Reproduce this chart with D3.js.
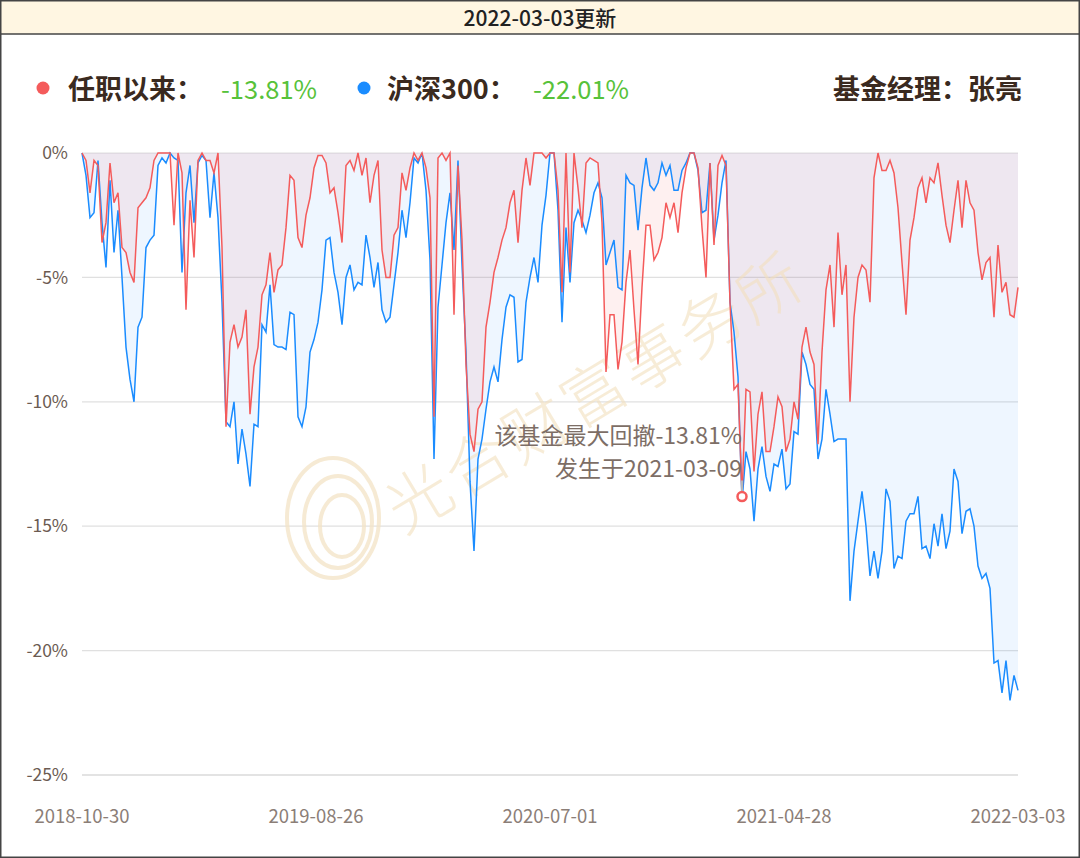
<!DOCTYPE html>
<meta charset="utf-8">
<style>
  body { margin: 0; background: #fff; }
  svg { display: block; font-family: "Noto Sans CJK SC", "Noto Sans", sans-serif; }
</style>
<script src="https://d3js.org/d3.v7.min.js"></script>
<body>
<script>

// drawdown series, percent, sampled evenly from 2018-10-30 to 2022-03-03
var fundDD = [
  0,-0.3,-1.6,-0.3,-0.5,-3.6,-2.8,-0.4,-2.0,-1.6,-3.8,-4.0,-4.8,-5.2,-2.2,-2.0,-1.8,-1.4,-0.3,0,
  0,0,0,-2.9,0,-0.8,-6.3,-1.9,-4.2,-0.3,0,-0.3,-0.3,-0.8,0,-3.8,-11.0,-7.6,-6.9,-7.8,
  -7.4,-6.3,-10.5,-8.6,-7.8,-5.7,-5.3,-4.0,-5.6,-4.7,-4.5,-3.0,-0.9,-1.1,-3.4,-3.8,-2.5,-1.8,-0.6,-0.1,
  -0.1,-0.4,-1.6,-1.4,-2.4,-3.6,-0.5,-0.3,-0.7,0,-0.9,-0.2,-2.0,-0.9,-0.3,-3.9,-5.0,-5.0,-3.3,
  -3.0,-0.8,-1.5,-0.6,0,-0.3,0,-0.6,-1.8,-10.6,-0.2,0,-0.3,0,-6.5,-0.5,-3.5,-8.5,-11.3,-12.0,
  -10.3,-10.0,-7.0,-6.0,-4.8,-4.2,-3.5,-3.0,-2.0,-1.5,-3.6,-1.5,-0.2,-1.3,0,0,0,-0.2,0,
  0,-1.5,-5.6,0,-4.8,0,-1.4,-3.0,-0.4,-0.2,-0.3,-0.4,-2.8,-8.8,-6.5,-6.5,-8.7,-7.6,-5.2,-3.9,
  -6.3,-8.5,-5.4,-2.9,-2.9,-4.3,-4.0,-3.4,-2.0,-2.6,-2.0,-3.2,-1.6,-0.6,0,0,-0.6,-3.0,-5.0,
  -0.4,-3.7,-0.5,-0.1,-0.5,-6.0,-9.5,-9.3,-13.81,-9.5,-9.6,-12.8,-10.5,-9.6,-12.0,-12.0,-11.0,-9.8,-10.2,-12.0,
  -11.5,-10.0,-10.7,-7.8,-7.0,-8.0,-8.5,-11.7,-8.0,-5.5,-4.5,-7.0,-3.2,-5.7,-4.5,-10.0,-6.6,-5.0,-4.5,
  -4.7,-6.0,-1.0,0,-0.7,-0.7,-0.3,-0.8,-2.2,-4.4,-6.5,-3.5,-2.6,-1.4,-1.0,-2.0,-1.0,-1.2,-0.4,-1.7,
  -2.9,-3.6,-2.3,-1.1,-3.0,-1.1,-2.0,-2.3,-4.0,-5.1,-4.4,-4.2,-6.6,-3.7,-5.6,-5.2,-6.5,-6.6,-5.4
];

var hs300DD = [
  0,-0.9,-2.6,-2.4,-0.3,-2.8,-4.6,-1.1,-4.0,-2.3,-5.0,-7.8,-9.1,-10.0,-7.0,-6.6,-3.8,-3.5,-3.3,-0.5,
  -0.2,-0.4,0,-0.2,-0.3,-4.8,-1.6,-0.5,-2.8,-0.4,-0.1,-0.3,-2.6,-0.8,-2.6,-6.0,-10.8,-11.0,-10.0,-12.5,
  -11.1,-12.1,-13.4,-10.9,-11.0,-6.9,-7.2,-5.3,-7.7,-7.8,-7.8,-7.9,-6.4,-6.5,-10.6,-11.0,-10.2,-8.0,-7.5,-6.8,
  -5.5,-3.5,-3.4,-4.8,-5.6,-6.9,-5.0,-4.5,-5.5,-5.2,-5.3,-3.3,-4.2,-5.4,-4.4,-6.3,-6.8,-6.6,-5.3,
  -4.0,-2.3,-3.4,-2.0,-0.2,-0.4,0,-1.5,-4.3,-12.3,-6.2,-4.5,-2.8,-1.6,-3.9,-0.3,-4.5,-8.0,-13.2,-16.0,
  -12.3,-11.5,-10.3,-9.2,-8.6,-9.2,-7.5,-6.2,-5.7,-5.8,-8.4,-8.3,-6.0,-5.0,-4.2,-5.2,-2.9,-1.7,0,
  0,-2.3,-6.8,-3.0,-5.2,-2.8,-2.3,-2.7,-3.2,-2.5,-1.6,-1.2,-1.8,-4.5,-4.0,-3.5,-5.4,-5.5,-0.9,-1.2,
  -1.3,-3.1,-1.4,-0.2,-1.3,-1.5,-1.2,-0.4,-0.9,-0.5,-1.5,-1.5,-0.7,-0.4,0,0,-0.7,-2.4,-2.3,
  -0.4,-3.5,-2.5,-1.2,-0.3,-6.0,-7.2,-9.0,-14.0,-12.0,-12.7,-14.8,-12.7,-11.8,-13.0,-13.6,-12.5,-12.6,-11.9,-13.5,
  -13.3,-11.2,-11.3,-8.0,-8.5,-9.3,-9.5,-12.3,-11.5,-9.5,-10.5,-11.6,-11.5,-11.5,-11.5,-18.0,-16.0,-14.8,-13.6,
  -15.0,-17.0,-16.0,-17.1,-16.0,-13.5,-14.0,-16.7,-16.2,-16.3,-14.8,-14.5,-14.5,-13.8,-15.9,-15.8,-16.3,-14.9,-15.8,-14.5,
  -15.9,-15.2,-12.7,-13.2,-15.3,-14.4,-14.3,-15.0,-16.6,-17.1,-16.9,-17.5,-20.5,-20.4,-21.7,-20.4,-22.0,-21.0,-21.6
];

var xLabels = ["2018-10-30", "2019-08-26", "2020-07-01", "2021-04-28", "2022-03-03"];
var yTicks = [0, -5, -10, -15, -20, -25];
var updateDate = "2022-03-03";
var maxDDDate = "2021-03-09";
var fundMaxDD = -13.81;
var hs300MaxDD = -22.01;
var manager = "张亮";

var W = 1080, H = 858;
var RED = "#f45b5b", BLUE = "#1a8cff";

var svg = d3.select("body").append("svg")
    .attr("width", W)
    .attr("height", H);

var x = d3.scaleLinear().domain([0, fundDD.length - 1]).range([82, 1018]);
var y = d3.scaleLinear().domain([-25, 0]).range([775, 153]);

// header band
svg.append("rect")
    .attr("x", 0).attr("y", 0).attr("width", W).attr("height", 34)
    .attr("fill", "#fff6e2");
svg.append("line")
    .attr("x1", 0).attr("x2", W).attr("y1", 34).attr("y2", 34)
    .attr("stroke", "#444").attr("stroke-width", 1.5);
svg.append("text")
    .attr("x", W / 2).attr("y", 26)
    .attr("text-anchor", "middle")
    .attr("font-size", 21)
    .attr("font-weight", 500)
    .attr("fill", "#222")
    .text(updateDate + "更新");

// legend row
var legend = svg.append("g").attr("font-size", 27).attr("font-weight", "bold");
legend.append("circle").attr("cx", 43).attr("cy", 88).attr("r", 6.5).attr("fill", RED);
legend.append("text").attr("x", 68).attr("y", 99).attr("fill", "#3a2a20").text("任职以来：");
legend.append("text").attr("x", 221).attr("y", 99).attr("fill", "#57c23a")
    .attr("font-size", 25.5).attr("font-weight", "normal").text(fundMaxDD.toFixed(2) + "%");
legend.append("circle").attr("cx", 364).attr("cy", 88).attr("r", 6.5).attr("fill", BLUE);
legend.append("text").attr("x", 387).attr("y", 99).attr("fill", "#3a2a20").text("沪深300：");
legend.append("text").attr("x", 533).attr("y", 99).attr("fill", "#57c23a")
    .attr("font-size", 25.5).attr("font-weight", "normal").text(hs300MaxDD.toFixed(2) + "%");
legend.append("text").attr("x", 1022).attr("y", 99).attr("text-anchor", "end")
    .attr("fill", "#3a2a20").text("基金经理：" + manager);

// grid + y labels
var grid = svg.append("g");
grid.selectAll("line")
    .data(yTicks)
    .enter().append("line")
    .attr("x1", x(0)).attr("x2", x(fundDD.length - 1))
    .attr("y1", function(d) { return y(d); })
    .attr("y2", function(d) { return y(d); })
    .attr("stroke", function(d) { return d === -25 ? "#c8c8c8" : "#e0e0e0"; })
    .attr("stroke-width", 1.2);
grid.selectAll("text")
    .data(yTicks)
    .enter().append("text")
    .attr("x", 68)
    .attr("y", function(d) { return y(d); })
    .attr("dy", "0.35em")
    .attr("text-anchor", "end")
    .attr("font-size", 17.5)
    .attr("fill", "#6b5b52")
    .text(function(d) { return d + "%"; });

// x labels at quarter points of the range
svg.append("g").selectAll("text")
    .data(xLabels)
    .enter().append("text")
    .attr("x", function(d, i) { return x(i * (fundDD.length - 1) / (xLabels.length - 1)); })
    .attr("y", 823)
    .attr("text-anchor", "middle")
    .attr("font-size", 18.5)
    .attr("fill", "#8b7e77")
    .text(function(d) { return d; });

// areas
var area = function(series) {
  return d3.area()
      .x(function(d, i) { return x(i); })
      .y0(y(0))
      .y1(function(d) { return y(d); })(series);
};
svg.append("path").attr("d", area(hs300DD)).attr("fill", BLUE).attr("fill-opacity", 0.075);
svg.append("path").attr("d", area(fundDD)).attr("fill", RED).attr("fill-opacity", 0.09);

// watermark
var wm = svg.append("g").attr("fill", "none").attr("stroke", "#f4e4c6").attr("stroke-width", 4).attr("opacity", 0.75);
wm.append("ellipse").attr("cx", 333).attr("cy", 518).attr("rx", 46).attr("ry", 60);
wm.append("ellipse").attr("cx", 338).attr("cy", 522).attr("rx", 34).attr("ry", 46);
wm.append("ellipse").attr("cx", 342).attr("cy", 526).attr("rx", 22).attr("ry", 31);
svg.append("text")
    .attr("transform", "translate(593,388) rotate(-31)")
    .attr("text-anchor", "middle")
    .attr("dominant-baseline", "central")
    .attr("font-size", 64)
    .attr("font-weight", 300)
    .attr("letter-spacing", 4)
    .attr("fill", "#f3e0bd")
    .attr("opacity", 0.6)
    .text("光合财富事务所");

// lines
var line = d3.line()
    .x(function(d, i) { return x(i); })
    .y(function(d) { return y(d); });
svg.append("path").attr("d", line(hs300DD))
    .attr("fill", "none").attr("stroke", BLUE).attr("stroke-width", 1.5);
svg.append("path").attr("d", line(fundDD))
    .attr("fill", "none").attr("stroke", RED).attr("stroke-width", 1.5);

// max drawdown marker
var mi = d3.minIndex(fundDD);
var mx = x(mi), my = y(fundDD[mi]);
svg.append("line")
    .attr("x1", mx).attr("x2", mx).attr("y1", my - 16).attr("y2", my - 5)
    .attr("stroke", "#b5b5b5").attr("stroke-width", 2);
svg.append("circle")
    .attr("cx", mx).attr("cy", my).attr("r", 4.5)
    .attr("fill", "#fff").attr("stroke", RED).attr("stroke-width", 2.5);
var note = svg.append("g").attr("text-anchor", "end").attr("font-size", 23).attr("fill", "#7d6e66");
note.append("text").attr("x", mx).attr("y", 444).text("该基金最大回撤" + fundDD[mi].toFixed(2) + "%");
note.append("text").attr("x", mx).attr("y", 477).text("发生于" + maxDDDate);

// outer frame
svg.append("rect")
    .attr("x", 0.75).attr("y", 0.75).attr("width", W - 1.5).attr("height", H - 1.5)
    .attr("fill", "none").attr("stroke", "#444").attr("stroke-width", 1.5);

</script>
</body>
